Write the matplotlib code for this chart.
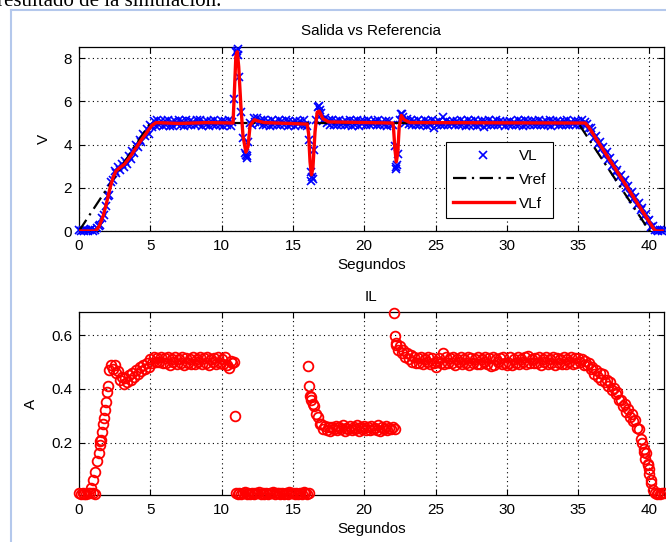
import numpy as np
import matplotlib
matplotlib.use("Agg")
import matplotlib.pyplot as plt
from matplotlib.lines import Line2D

plt.rcParams['font.family'] = ['Liberation Sans', 'DejaVu Sans']

# ---- data ----
# reference voltage breakpoints
t_ref = [0, 5, 35, 40, 41]
vref = [0, 5, 5, 0, 0]

# filtered output VLf (line vertices)
t_vlf = [0, 1.15, 1.4, 1.7, 1.95, 2.2, 2.4, 2.6, 2.9, 3.2, 3.6, 4.3, 5.1, 5.4,
         7.0, 9.0, 10.8, 10.9, 11.0, 11.1, 11.2, 11.35, 11.5, 11.7, 11.85,
         12.0, 12.3, 12.6, 13.0, 16.0, 16.1, 16.2, 16.3, 16.4, 16.55, 16.7,
         16.85, 17.1, 17.5, 22.0, 22.05, 22.15, 22.25, 22.35, 22.45, 22.6,
         22.8, 23.2, 35.5, 35.75, 40.35, 40.5, 41.0]
vlf = [0, 0, 0.2, 0.7, 1.35, 2.05, 2.5, 2.78, 2.95, 3.1, 3.45, 4.15, 4.88, 5.02,
       4.98, 5.02, 5.0, 6.5, 8.1, 8.3, 7.6, 5.8, 4.4, 3.65, 3.9,
       4.9, 5.15, 5.08, 5.02, 4.95, 4.5, 3.2, 2.6, 2.9, 4.6, 5.5,
       5.55, 5.2, 5.05, 5.0, 4.8, 3.8, 3.2, 3.6, 4.8, 5.35,
       5.15, 5.02, 5.0, 4.8, 0.05, 0.0, 0.0]

# measured output VL, one sample every 0.125 s (one row = 2 s)
vl = [0.04, 0.01, 0.06, 0.02, 0.05, 0.00, 0.03, 0.07, 0.02, 0.05, 0.12, 0.22, 0.30, 0.62, 0.72, 1.18,
      1.62, 1.68, 2.28, 2.36, 2.76, 2.68, 2.98, 2.82, 3.12, 2.95, 3.26, 3.12, 3.48, 3.34, 3.70, 3.63,
      3.97, 3.88, 4.22, 4.12, 4.47, 4.38, 4.70, 4.51, 4.93, 4.80, 5.08, 4.86, 5.13, 4.91, 5.10, 4.88,
      5.10, 4.92, 5.13, 4.88, 5.06, 4.86, 5.11, 4.95, 5.14, 4.90, 5.08, 4.87, 5.12, 4.93, 5.09, 4.89,
      5.07, 4.90, 5.12, 4.94, 5.15, 4.88, 5.05, 4.91, 5.11, 4.86, 5.09, 4.93, 5.13, 4.89, 5.06, 4.92,
      5.11, 4.88, 5.09, 4.93, 5.12, 4.87, 5.06, 6.10, 8.28, 8.45, 7.15, 5.50, 4.30, 3.62, 3.45, 4.12,
      4.98, 4.92, 5.25, 5.05, 5.22, 5.00, 5.13, 4.92, 5.12, 4.90, 5.10, 4.88, 5.14, 4.91, 5.07, 4.89,
      5.12, 4.90, 5.08, 4.93, 5.13, 4.87, 5.10, 4.91, 5.06, 4.88, 5.11, 4.94, 5.09, 4.89, 5.12, 4.92,
      4.88, 4.20, 2.75, 2.42, 3.75, 5.12, 5.75, 5.62, 5.45, 5.10, 5.22, 4.98, 5.15, 4.93, 5.12, 4.90,
      5.09, 4.91, 5.13, 4.90, 5.06, 4.93, 5.11, 4.89, 5.14, 4.88, 5.08, 4.92, 5.12, 4.87, 5.10, 4.94,
      5.08, 4.92, 5.12, 4.90, 5.05, 4.94, 5.10, 4.91, 5.13, 4.89, 5.07, 4.93, 5.11, 4.88, 5.09, 4.92,
      4.90, 3.95, 2.95, 3.55, 5.12, 5.42, 5.30, 5.02, 5.18, 4.95, 5.12, 4.90, 5.08, 4.92, 5.13, 4.89,
      5.07, 4.93, 5.12, 4.88, 5.09, 4.92, 5.14, 4.76, 5.06, 4.91, 5.10, 4.89, 5.28, 4.93, 5.11, 4.90,
      5.06, 4.94, 5.11, 4.89, 5.08, 4.93, 5.13, 4.90, 5.07, 4.88, 5.12, 4.92, 5.09, 4.91, 5.14, 4.87,
      5.05, 4.92, 5.10, 4.80, 5.08, 4.93, 5.12, 4.90, 5.06, 4.89, 5.13, 4.91, 5.10, 4.94, 5.07, 4.88,
      5.07, 4.91, 5.11, 4.93, 5.06, 4.90, 5.12, 4.92, 5.09, 4.87, 5.13, 4.90, 5.08, 4.93, 5.11, 4.89,
      5.09, 4.89, 5.13, 4.92, 5.07, 4.91, 5.10, 4.93, 5.12, 4.88, 5.08, 4.94, 5.11, 4.90, 5.06, 4.92,
      5.08, 4.90, 5.12, 4.93, 5.06, 4.94, 5.11, 4.89, 5.09, 4.92, 5.12, 4.90, 5.04, 4.96, 4.78, 4.75,
      4.65, 4.30, 4.40, 4.05, 4.12, 3.80, 3.88, 3.52, 3.64, 3.27, 3.36, 3.00, 3.10, 2.75, 2.84, 2.50,
      2.58, 2.24, 2.34, 1.98, 2.08, 1.72, 1.82, 1.46, 1.57, 1.20, 1.31, 0.95, 1.05, 0.70, 0.78, 0.44,
      0.52, 0.18, 0.25, 0.05, 0.04, 0.02, 0.06, 0.01, 0.03]
# extra VL samples at the peaks of the load steps
t_vl_extra = [11.06, 11.18, 11.7, 11.8, 16.3, 16.33, 16.8, 22.2, 22.3, 22.6]
vl_extra = [8.35, 8.15, 3.5, 3.38, 2.3, 2.5, 5.8, 2.85, 3.05, 5.4]

# inductor current IL, one sample every 0.125 s (one row = 2 s)
il = [0.012, 0.008, 0.014, 0.010, 0.009, 0.013, 0.011, 0.03, 0.06, 0.09, 0.13, 0.16, 0.205, 0.24, 0.29, 0.35,
      0.41, 0.47, 0.49, 0.475, 0.49, 0.46, 0.465, 0.435, 0.445, 0.42, 0.44, 0.425, 0.45, 0.435, 0.46, 0.445,
      0.47, 0.455, 0.48, 0.465, 0.49, 0.475, 0.495, 0.48, 0.51, 0.495, 0.52, 0.50, 0.515, 0.50, 0.52, 0.495,
      0.515, 0.495, 0.52, 0.49, 0.51, 0.50, 0.518, 0.492, 0.512, 0.498, 0.52, 0.49, 0.515, 0.497, 0.51, 0.493,
      0.518, 0.494, 0.51, 0.50, 0.52, 0.491, 0.514, 0.497, 0.519, 0.49, 0.511, 0.499, 0.516, 0.493, 0.52, 0.496,
      0.512, 0.494, 0.518, 0.49, 0.478, 0.505, 0.495, 0.50, 0.012, 0.009, 0.014, 0.008, 0.011, 0.015, 0.009, 0.013,
      0.010, 0.014, 0.008, 0.013, 0.011, 0.015, 0.009, 0.012, 0.010, 0.014, 0.008, 0.013, 0.011, 0.015, 0.009, 0.012,
      0.013, 0.009, 0.014, 0.010, 0.012, 0.008, 0.015, 0.011, 0.013, 0.009, 0.014, 0.010, 0.012, 0.008, 0.015, 0.011,
      0.010, 0.013, 0.37, 0.345, 0.335, 0.305, 0.295, 0.27, 0.27, 0.25, 0.262, 0.248, 0.26, 0.245, 0.258, 0.25,
      0.262, 0.247, 0.258, 0.25, 0.265, 0.245, 0.256, 0.251, 0.263, 0.246, 0.259, 0.249, 0.264, 0.244, 0.257, 0.252,
      0.261, 0.248, 0.26, 0.246, 0.263, 0.25, 0.255, 0.247, 0.264, 0.245, 0.258, 0.251, 0.262, 0.248, 0.256, 0.249,
      0.26, 0.252, 0.57, 0.545, 0.56, 0.535, 0.545, 0.52, 0.535, 0.512, 0.525, 0.50, 0.518, 0.497, 0.515, 0.495,
      0.518, 0.494, 0.51, 0.50, 0.52, 0.491, 0.514, 0.497, 0.48, 0.50, 0.515, 0.497, 0.535, 0.493, 0.52, 0.496,
      0.515, 0.495, 0.52, 0.49, 0.51, 0.50, 0.518, 0.492, 0.512, 0.498, 0.52, 0.49, 0.515, 0.497, 0.51, 0.493,
      0.518, 0.494, 0.51, 0.50, 0.52, 0.491, 0.514, 0.485, 0.519, 0.49, 0.511, 0.499, 0.516, 0.493, 0.52, 0.496,
      0.488, 0.497, 0.519, 0.49, 0.512, 0.498, 0.52, 0.493, 0.511, 0.499, 0.517, 0.492, 0.522, 0.495, 0.513, 0.497,
      0.515, 0.495, 0.52, 0.49, 0.51, 0.50, 0.518, 0.492, 0.512, 0.498, 0.52, 0.49, 0.515, 0.497, 0.51, 0.493,
      0.518, 0.494, 0.51, 0.50, 0.52, 0.491, 0.514, 0.497, 0.515, 0.50, 0.51, 0.49, 0.505, 0.49, 0.495, 0.475,
      0.48, 0.455, 0.47, 0.445, 0.46, 0.435, 0.455, 0.425, 0.435, 0.41, 0.425, 0.395, 0.405, 0.38, 0.39, 0.36,
      0.36, 0.335, 0.345, 0.315, 0.325, 0.295, 0.305, 0.28, 0.285, 0.255, 0.25, 0.215, 0.20, 0.165, 0.16, 0.115,
      0.085, 0.05, 0.025, 0.012, 0.009, 0.014, 0.010, 0.013, 0.011]
# extra IL samples (fast transients and outliers)
t_il_extra = [1.0, 1.125, 1.45, 1.55, 1.7, 1.8, 1.95, 10.93, 16.05, 16.1, 16.2,
              16.3, 22.1, 22.15, 22.2, 39.6, 39.7, 39.9, 40.0, 40.1]
il_extra = [0.012, 0.010, 0.19, 0.21, 0.27, 0.32, 0.39, 0.30, 0.487, 0.412, 0.375,
            0.36, 0.684, 0.598, 0.565, 0.175, 0.14, 0.12, 0.10, 0.06]

# simulation time base (0.125 s steps)
t_s = np.arange(len(vl)) * 0.125
t_vl = np.concatenate([t_s, t_vl_extra])
vl_all = np.concatenate([vl, vl_extra])
t_il = np.concatenate([t_s, t_il_extra])
il_all = np.concatenate([il, il_extra])

# ---- figure ----
fig = plt.figure(figsize=(6.66, 5.42), dpi=100)
fig.patch.set_facecolor('white')

ax1 = fig.add_axes([0.1186, 0.5738, 0.878, 0.3395])
ax2 = fig.add_axes([0.1186, 0.0867, 0.878, 0.337])

grid_kw = dict(color='k', linestyle=(0, (1, 3)), linewidth=0.8)

ax1.plot(t_vl, vl_all, 'x', color='b', markersize=5.5, mew=1.2, label='VL',
         zorder=3, clip_on=False)
ax1.plot(t_ref, vref, color='k', linestyle=(0, (6, 2.5, 1, 2.5)), linewidth=1.6,
         label='Vref', zorder=4)
ax1.plot(t_vlf, vlf, color='r', linewidth=2.4, label='VLf', zorder=5)
ax1.set_xlim(0, 41)
ax1.set_ylim(0, 8.52)
ax1.set_xticks(range(0, 41, 5))
ax1.set_yticks([0, 2, 4, 6, 8])
ax1.set_title('Salida vs Referencia', fontsize=11, pad=8.5)
ax1.set_xlabel('Segundos', fontsize=11, labelpad=3)
ax1.set_ylabel('V', fontsize=11, labelpad=9)
ax1.grid(True, **grid_kw)

leg = ax1.legend(loc='upper left', bbox_to_anchor=(446 / 666, 1 - 142 / 542),
                 bbox_transform=fig.transFigure, borderaxespad=0, numpoints=1,
                 fontsize=11, handlelength=4.0, handletextpad=0.3,
                 labelspacing=0.65, borderpad=0.45, fancybox=False,
                 framealpha=1, edgecolor='k')
leg.get_frame().set_linewidth(0.8)

ax2.plot(t_il, il_all, 'o', markerfacecolor='none', markeredgecolor='r',
         markersize=7, mew=1.3, zorder=3, clip_on=False)
ax2.set_xlim(0, 41)
ax2.set_ylim(0.005, 0.685)
ax2.set_xticks(range(0, 41, 5))
ax2.set_yticks([0.2, 0.4, 0.6])
ax2.set_title('IL', fontsize=11, pad=8.5)
ax2.set_xlabel('Segundos', fontsize=11, labelpad=3)
ax2.set_ylabel('A', fontsize=11, labelpad=9)
ax2.grid(True, **grid_kw)

for ax in (ax1, ax2):
    ax.tick_params(direction='in', top=True, right=True, length=4,
                   width=0.8, labelsize=11)
    ax.tick_params(axis='x', pad=6)
    ax.tick_params(axis='y', pad=5)
    for sp in ax.spines.values():
        sp.set_linewidth(0.9)

# window frame and caption text of the source document
frame_col = '#b4c8ec'
fig.add_artist(Line2D([11 / 666, 11 / 666], [0, 1 - 10 / 542],
                      transform=fig.transFigure, color=frame_col, lw=1.5))
fig.add_artist(Line2D([11 / 666, 1], [1 - 10 / 542, 1 - 10 / 542],
                      transform=fig.transFigure, color=frame_col, lw=1.5))
fig.text(-0.004, 1 - 6 / 542, 'resultado de la simulación.',
         family=['Liberation Serif', 'DejaVu Serif'], fontsize=15,
         va='baseline', ha='left')

fig.savefig('out.png', dpi=100)
